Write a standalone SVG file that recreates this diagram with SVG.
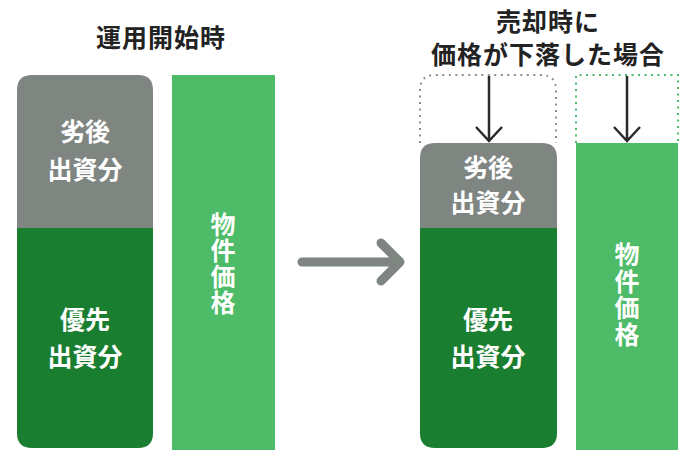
<svg xmlns="http://www.w3.org/2000/svg" width="700" height="450" viewBox="0 0 700 450">
<defs>
<style>
text{font-family:"Noto Sans CJK JP","Noto Sans",sans-serif;font-weight:700;text-anchor:middle}
.title{font-size:25px;fill:#222;letter-spacing:1px}
.lbl{font-size:25px;fill:#fff}
.vert{font-size:25px;fill:#fff;writing-mode:vertical-rl;text-anchor:start;letter-spacing:1px}
.gray{fill:#7f8682}
.dark{fill:#1a7e30}
.light{fill:#4dbb67}
.dotg{fill:none;stroke:#8a8f8c;stroke-width:2;stroke-dasharray:2 4.5}
.dotgr{fill:none;stroke:#4dbb67;stroke-width:2;stroke-dasharray:2 4.5}
.down{fill:none;stroke:#2a2a2a;stroke-width:2.5}
</style>
</defs>
<rect width="700" height="450" fill="#fff"/>
<g id="title-left"><text class="title" x="161" y="47">運用開始時</text></g>
<g id="title-right"><text class="title" x="548" y="31">売却時に</text><text class="title" x="548" y="64">価格が下落した場合</text></g>
<g id="left-subordinate"><path class="gray" d="M17,229 V90 Q17,75 32,75 H138 Q153,75 153,90 V229 Z"/><text class="lbl" x="85" y="141">劣後</text><text class="lbl" x="85" y="179">出資分</text></g>
<g id="left-senior"><path class="dark" d="M17,228 H153 V433 Q153,448 138,448 H32 Q17,448 17,433 Z"/><text class="lbl" x="85" y="329">優先</text><text class="lbl" x="85" y="366">出資分</text></g>
<g id="left-price"><rect class="light" x="172" y="75" width="103" height="375"/><text class="vert" x="223" y="212">物件価格</text></g>
<g id="right-before"><path class="dotg" d="M420,143 V90 Q420,75 435,75 H541 Q556,75 556,90 V143"/><path class="dotgr" d="M576,143 V75 H678 V143"/></g>
<g id="right-subordinate"><path class="gray" d="M420,229 V158 Q420,143 435,143 H542 Q557,143 557,158 V229 Z"/><text class="lbl" x="488" y="177">劣後</text><text class="lbl" x="488" y="212">出資分</text></g>
<g id="right-senior"><path class="dark" d="M420,228 H557 V433 Q557,448 542,448 H435 Q420,448 420,433 Z"/><text class="lbl" x="488" y="329">優先</text><text class="lbl" x="488" y="366">出資分</text></g>
<g id="right-price"><rect class="light" x="576" y="143" width="102" height="307"/><text class="vert" x="627" y="242" style="letter-spacing:1.5px">物件価格</text></g>
<g id="connectors">
<path d="M302,262 H398 M381,243 L400,262 L381,281" fill="none" stroke="#7f8682" stroke-width="9" stroke-linecap="round" stroke-linejoin="round"/>
<path class="down" d="M489,76 V141 M476,127 L489,141 L502,127"/>
<path class="down" d="M627,76 V141 M614,127 L627,141 L640,127"/>
</g>
</svg>
